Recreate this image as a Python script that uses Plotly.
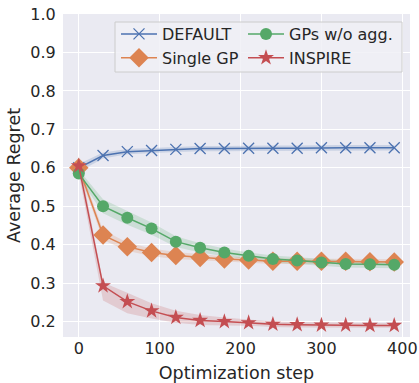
import plotly.graph_objects as go

steps = [0, 30, 60, 90, 120, 150, 180, 210, 240, 270, 300, 330, 360, 390]

default_mean = [0.600, 0.632, 0.642, 0.645, 0.648, 0.650, 0.650, 0.651, 0.651, 0.651, 0.652, 0.652, 0.652, 0.652]
default_low = [0.590, 0.624, 0.635, 0.638, 0.641, 0.643, 0.643, 0.644, 0.644, 0.644, 0.645, 0.645, 0.645, 0.645]
default_high = [0.610, 0.640, 0.649, 0.652, 0.655, 0.657, 0.657, 0.658, 0.658, 0.658, 0.659, 0.659, 0.659, 0.659]

single_mean = [0.600, 0.425, 0.395, 0.380, 0.372, 0.367, 0.363, 0.360, 0.357, 0.357, 0.357, 0.357, 0.356, 0.355]
single_low = [0.590, 0.412, 0.384, 0.370, 0.363, 0.359, 0.356, 0.353, 0.350, 0.350, 0.350, 0.350, 0.349, 0.348]
single_high = [0.610, 0.438, 0.406, 0.390, 0.381, 0.375, 0.370, 0.367, 0.364, 0.364, 0.364, 0.364, 0.363, 0.362]

gps_mean = [0.585, 0.500, 0.470, 0.442, 0.408, 0.392, 0.380, 0.371, 0.363, 0.359, 0.354, 0.350, 0.349, 0.348]
gps_low = [0.575, 0.482, 0.452, 0.426, 0.394, 0.380, 0.370, 0.362, 0.354, 0.350, 0.345, 0.341, 0.340, 0.339]
gps_high = [0.595, 0.518, 0.488, 0.458, 0.422, 0.404, 0.390, 0.380, 0.372, 0.368, 0.363, 0.359, 0.358, 0.357]

inspire_mean = [0.605, 0.293, 0.252, 0.228, 0.211, 0.203, 0.200, 0.197, 0.193, 0.192, 0.191, 0.191, 0.190, 0.190]
inspire_low = [0.585, 0.255, 0.222, 0.208, 0.197, 0.191, 0.190, 0.189, 0.186, 0.185, 0.185, 0.185, 0.184, 0.184]
inspire_high = [0.630, 0.302, 0.275, 0.248, 0.228, 0.217, 0.211, 0.205, 0.200, 0.199, 0.198, 0.197, 0.196, 0.196]

series = [
    ("DEFAULT", default_mean, default_low, default_high, "#4c72b0", "rgba(76,114,176,0.2)", "x-thin-open", 11, "legend"),
    ("Single GP", single_mean, single_low, single_high, "#dd8452", "rgba(221,132,82,0.2)", "diamond", 15, "legend"),
    ("GPs w/o agg.", gps_mean, gps_low, gps_high, "#55a868", "rgba(85,168,104,0.2)", "circle", 12, "legend2"),
    ("INSPIRE", inspire_mean, inspire_low, inspire_high, "#c44e52", "rgba(196,78,82,0.2)", "star", 12, "legend2"),
]

fig = go.Figure()
for name, m, lo, hi, col, fillcol, sym, sz, lg in series:
    fig.add_trace(go.Scatter(
        x=steps + steps[::-1], y=hi + lo[::-1], fill="toself", fillcolor=fillcol,
        line=dict(width=0), mode="lines", showlegend=False, hoverinfo="skip"))
for name, m, lo, hi, col, fillcol, sym, sz, lg in series:
    fig.add_trace(go.Scatter(
        x=steps, y=m, mode="lines+markers", name=name, legend=lg,
        line=dict(color=col, width=1.5),
        marker=dict(symbol=sym, size=sz, color=col,
                    line=dict(color=col, width=1.3 if sym == "x-thin-open" else 0))))

L, R, T, B, W, H = 63, 9, 14, 46, 419, 383
pw, ph = W - L - R, H - T - B

def px_x(p):
    return (p - L) / pw

def px_y(p):
    return 1 - (p - T) / ph

# legend frame (matplotlib-style box)
fig.add_shape(type="rect", xref="paper", yref="paper",
              x0=px_x(115), x1=px_x(402), y0=px_y(72), y1=px_y(22),
              fillcolor="rgba(240,240,246,0.85)", line=dict(color="#cccccc", width=1),
              layer="above")

leg_common = dict(orientation="v", yanchor="top", xanchor="left",
                  bgcolor="rgba(0,0,0,0)", borderwidth=0,
                  font=dict(size=16), itemwidth=36, tracegroupgap=0)

fig.update_layout(
    width=W, height=H,
    margin=dict(l=L, r=R, t=T, b=B),
    plot_bgcolor="#eaeaf2", paper_bgcolor="white",
    font=dict(family="DejaVu Sans", size=16, color="#262626"),
    xaxis=dict(range=[-19.5, 409.5], tickvals=[0, 100, 200, 300, 400],
               showgrid=True, gridcolor="white", gridwidth=1, zeroline=False,
               ticks="", showline=False, automargin=False,
               title=dict(text="Optimization step", font=dict(size=17.5))),
    yaxis=dict(range=[0.16, 1.0], tickvals=[0.2, 0.3, 0.4, 0.5, 0.6, 0.7, 0.8, 0.9, 1.0],
               ticktext=["0.2", "0.3", "0.4", "0.5", "0.6", "0.7", "0.8", "0.9", "1.0"],
               showgrid=True, gridcolor="white", gridwidth=1, zeroline=False,
               ticks="outside", ticklen=3, tickcolor="rgba(0,0,0,0)",
               showline=False, automargin=False,
               title=dict(text="Average Regret", font=dict(size=17.5), standoff=5)),
    legend=dict(x=px_x(116), y=px_y(17), **leg_common),
    legend2=dict(x=px_x(243), y=px_y(17), **leg_common),
    showlegend=True,
)

fig.write_html("out.html", config={"displayModeBar": False},
               post_script="document.body.style.margin='0';")
